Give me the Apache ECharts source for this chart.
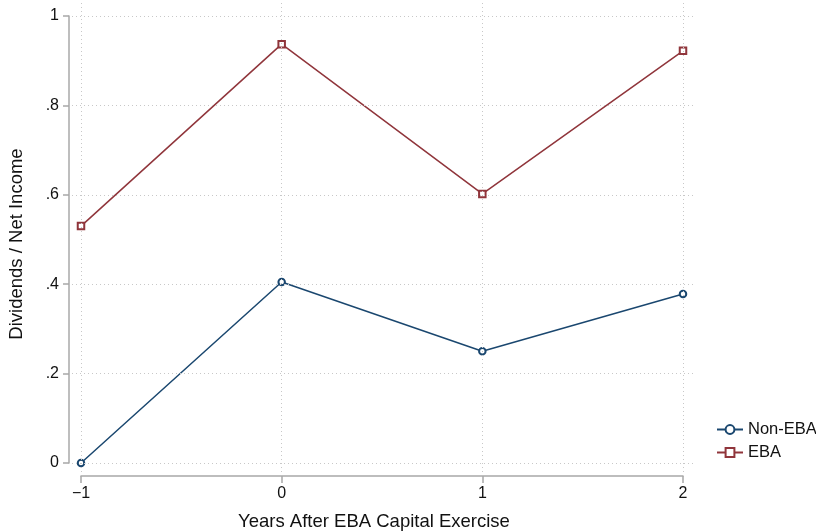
<!DOCTYPE html>
<html><head><meta charset="utf-8">
<script src="https://cdn.jsdelivr.net/npm/echarts@6/dist/echarts.min.js"></script>
<style>html,body{margin:0;padding:0;background:#fff}#c{width:816px;height:532px}</style>
</head><body><div id="c"></div>
<script>
const years = [-1, 0, 1, 2];
const nonEBA = [0.0, 0.405, 0.250, 0.378];
const eba = [0.530, 0.937, 0.602, 0.922];
const xTicks = [-1, 0, 1, 2];
const xTickLabels = ['\u22121', '0', '1', '2'];
const yTicks = [0, 0.2, 0.4, 0.6, 0.8, 1];
const yTickLabels = ['0', '.2', '.4', '.6', '.8', '1'];
const seriesNames = ['Non-EBA', 'EBA'];
const xTitle = 'Years After EBA Capital Exercise';
const yTitle = 'Dividends / Net Income';

const FONT = "'Liberation Sans', Arial, Helvetica, sans-serif";
const ax = {l: 81, r: 683, t: 16, b: 463};
const pr = {l: 72, r: 695, t: 3, b: 472};
const xMin = xTicks[0], xMax = xTicks[xTicks.length - 1];
const yMin = yTicks[0], yMax = yTicks[yTicks.length - 1];
const sx = (ax.r - ax.l) / (xMax - xMin), sy = (ax.b - ax.t) / (yMax - yMin);
const x1Min = xMin - (ax.l - pr.l) / sx, x1Max = xMax + (pr.r - ax.r) / sx;
const y1Min = yMin - (pr.b - ax.b) / sy, y1Max = yMax + (ax.t - pr.t) / sy;

function lookup(ticks, labels) {
  return function (v) {
    for (let i = 0; i < ticks.length; i++) if (Math.abs(ticks[i] - v) < 1e-6) return labels[i];
    return '';
  };
}

const navy = '#1a476f', maroon = '#90353b';
const axisGray = '#a8a8a8';
const gridStyle = {type: [1, 3], color: '#c8c8c8', width: 1};

const chart = echarts.init(document.getElementById('c'), null, {renderer: 'canvas'});
chart.setOption({
  animation: false,
  backgroundColor: '#fff',
  textStyle: {fontFamily: FONT},
  grid: [
    {left: pr.l, top: pr.t, width: pr.r - pr.l, height: pr.b - pr.t, containLabel: false},
    {left: ax.l, top: ax.t, width: ax.r - ax.l, height: ax.b - ax.t, containLabel: false}
  ],
  xAxis: [
    {gridIndex: 0, type: 'value', min: x1Min, max: x1Max, show: false},
    {gridIndex: 1, type: 'value', min: xMin, max: xMax, interval: 1, position: 'bottom', offset: 13,
      axisLine: {show: true, onZero: false, lineStyle: {color: axisGray, width: 1.5}},
      axisTick: {show: true, length: 7, lineStyle: {color: axisGray, width: 1.5}},
      axisLabel: {show: true, margin: 10, color: '#111', fontSize: 16, fontFamily: FONT, formatter: lookup(xTicks, xTickLabels)},
      splitLine: {show: false}}
  ],
  yAxis: [
    {gridIndex: 0, type: 'value', min: y1Min, max: y1Max, show: false},
    {gridIndex: 1, type: 'value', min: yMin, max: yMax, interval: 0.2, position: 'left', offset: 12,
      axisLine: {show: true, onZero: false, lineStyle: {color: axisGray, width: 1.5}},
      axisTick: {show: true, length: 6, lineStyle: {color: axisGray, width: 1.5}},
      axisLabel: {show: true, margin: 10, color: '#111', fontSize: 16, fontFamily: FONT, formatter: lookup(yTicks, yTickLabels)},
      splitLine: {show: false}}
  ],
  legend: {
    orient: 'vertical', left: 711, top: 416, itemWidth: 26, itemHeight: 11, itemGap: 6,
    data: seriesNames,
    textStyle: {fontSize: 16.5, color: '#111', fontFamily: FONT}
  },
  graphic: [
    {type: 'text', x: 374, y: 522, style: {text: xTitle, font: '18.5px ' + FONT, fill: '#111', textAlign: 'center', textVerticalAlign: 'middle'}},
    {type: 'text', x: 17, y: 244, rotation: Math.PI / 2, style: {text: yTitle, font: '18.5px ' + FONT, fill: '#111', textAlign: 'center', textVerticalAlign: 'middle'}}
  ],
  series: [
    {
      type: 'line', xAxisIndex: 0, yAxisIndex: 0, data: [], silent: true, z: 0,
      markLine: {
        silent: true, symbol: 'none', label: {show: false},
        lineStyle: gridStyle, animation: false,
        data: yTicks.map(v => ({yAxis: v})).concat(xTicks.map(v => ({xAxis: v})))
      }
    },
    {
      name: seriesNames[0], type: 'line', xAxisIndex: 1, yAxisIndex: 1, clip: false, z: 3,
      data: years.map((x, i) => [x, nonEBA[i]]),
      symbol: 'emptyCircle', symbolSize: 6.5,
      lineStyle: {color: navy, width: 1.5},
      itemStyle: {color: navy, borderColor: navy, borderWidth: 1.5}
    },
    {
      name: seriesNames[1], type: 'line', xAxisIndex: 1, yAxisIndex: 1, clip: false, z: 3,
      data: years.map((x, i) => [x, eba[i]]),
      symbol: 'emptyRect', symbolSize: 6.5,
      lineStyle: {color: maroon, width: 1.5},
      itemStyle: {color: maroon, borderColor: maroon, borderWidth: 1.5}
    }
  ]
});
</script>
</body></html>
